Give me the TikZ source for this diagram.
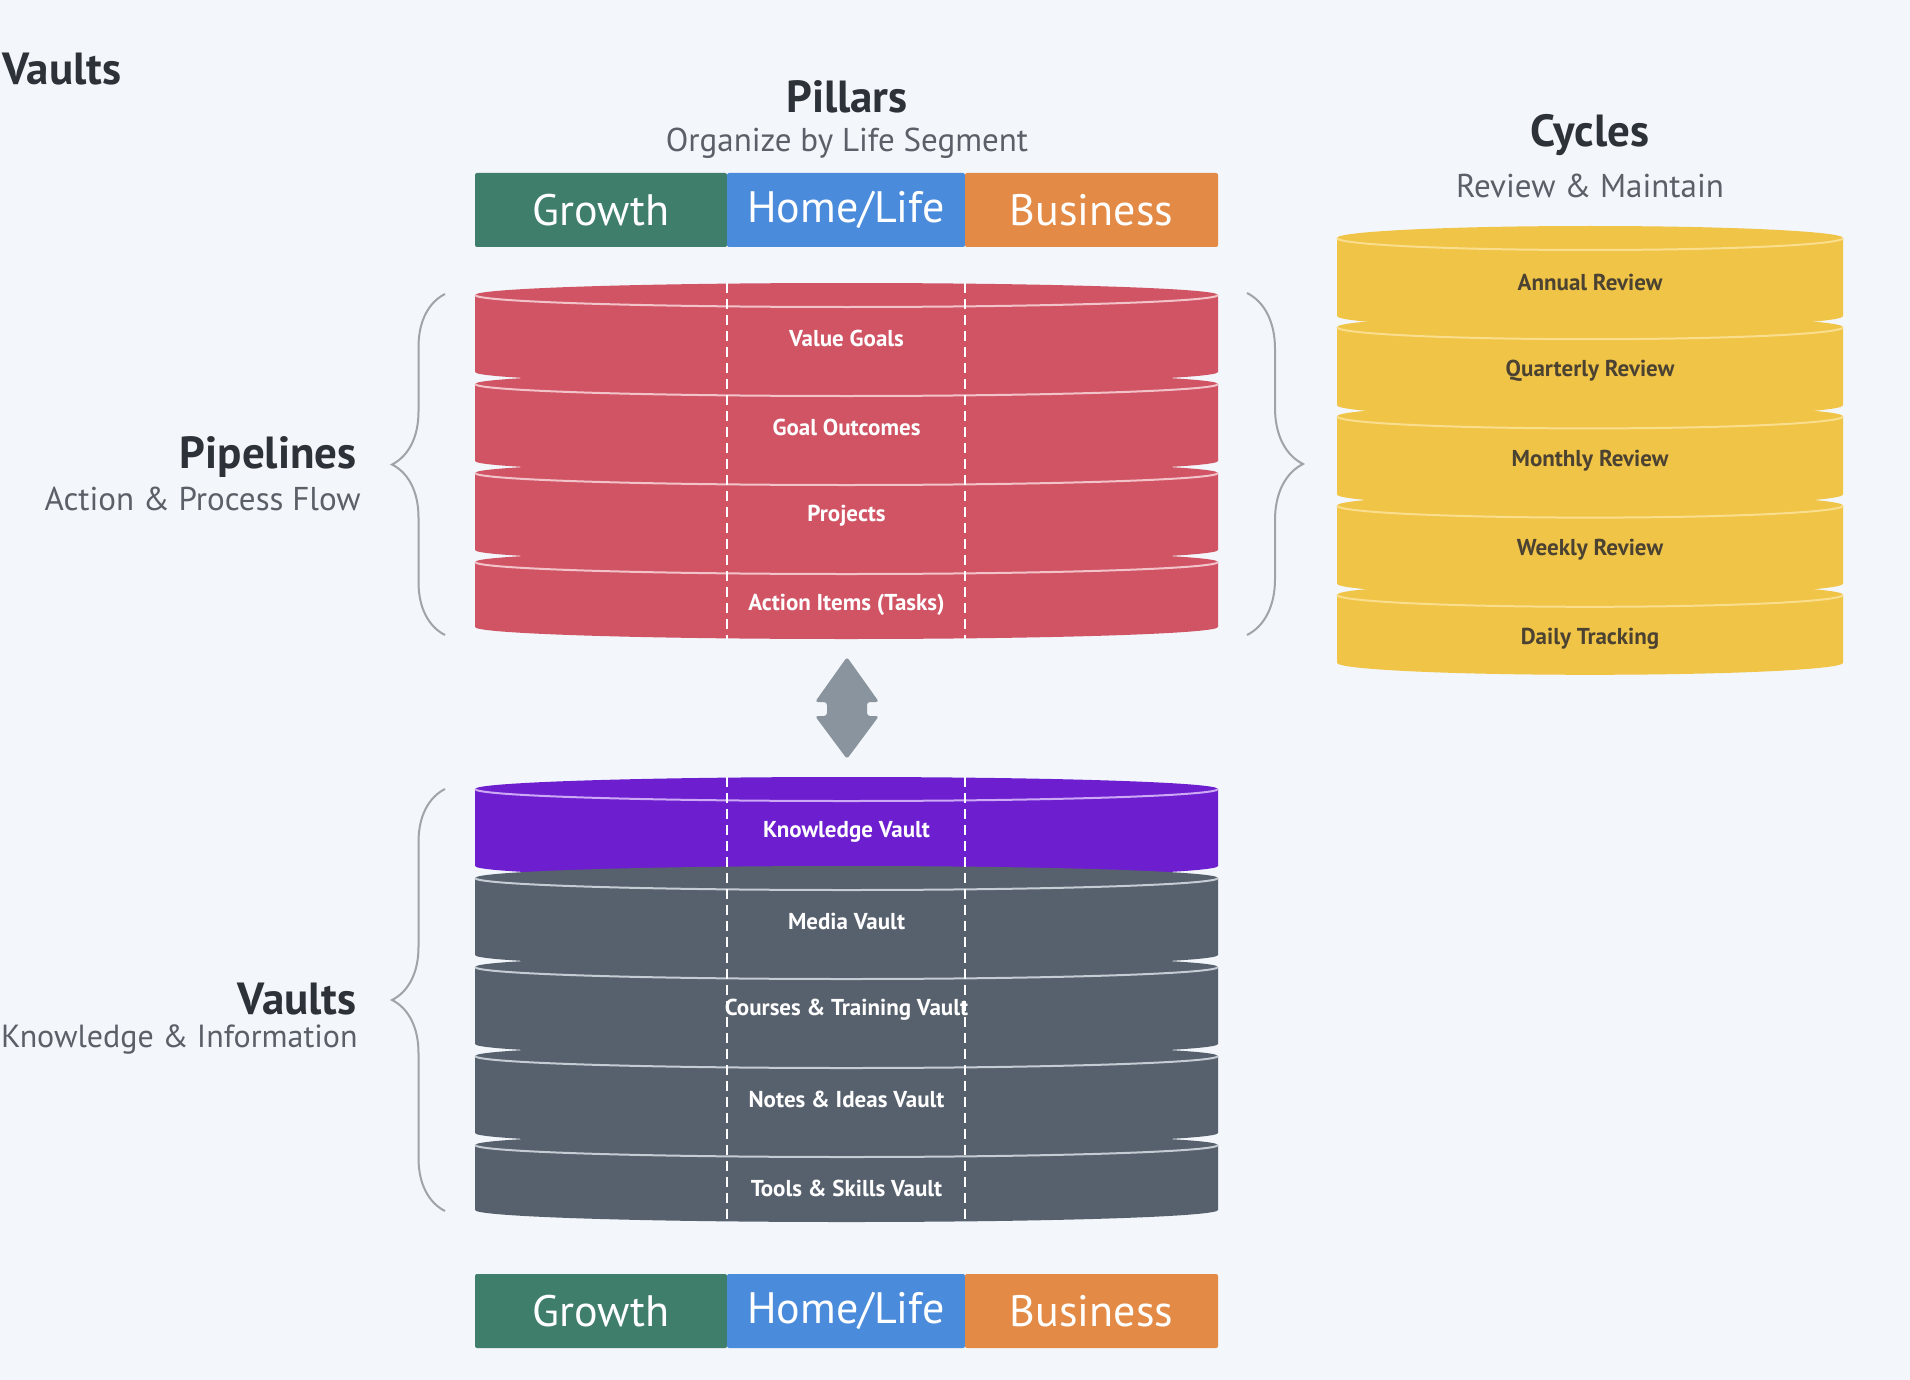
\documentclass[tikz,border=0pt]{standalone}
\usepackage{fontspec}
\setmainfont{PT Sans}
\usepackage{tikz}
\usetikzlibrary{positioning,decorations.pathreplacing}

\definecolor{bgcol}{HTML}{F3F6FA}
\definecolor{inkdark}{HTML}{2D3238}
\definecolor{inkgray}{HTML}{5B6068}
\definecolor{growthc}{HTML}{3F7E6B}
\definecolor{homec}{HTML}{4A8BDB}
\definecolor{businessc}{HTML}{E38B46}
\definecolor{pipered}{HTML}{D05464}
\definecolor{piperim}{HTML}{F2C4CA}
\definecolor{vaultpurple}{HTML}{6D1FCF}
\definecolor{purplerim}{HTML}{CDA8F4}
\definecolor{vaultgray}{HTML}{57616D}
\definecolor{grayrim}{HTML}{C6CCD3}
\definecolor{cycleyellow}{HTML}{F0C447}
\definecolor{yellowrim}{HTML}{F9DE8E}
\definecolor{cycleink}{HTML}{4B4232}
\definecolor{arrowc}{HTML}{8A949E}
\definecolor{bracec}{HTML}{9EA4AA}

\begin{document}
\begin{tikzpicture}[
x=0.5pt, y=-0.5pt,
pillarnode/.style={rectangle, rounded corners=1pt, inner sep=0pt, outer sep=0pt, minimum height=37pt, text=white, font=\fontsize{22}{26}\selectfont},
titlenode/.style={text=inkdark, inner sep=0pt, font=\fontsize{22.5}{26}\selectfont\bfseries},
subnode/.style={text=inkgray, inner sep=0pt, font=\fontsize{16.5}{20}\selectfont},
layerlabel/.style={text=white, font=\fontsize{11.5}{14}\selectfont\bfseries},
cyclelabel/.style={text=cycleink, font=\fontsize{11.5}{14}\selectfont\bfseries},
divline/.style={white, line width=1.2pt, dash pattern=on 5pt off 3pt},
bracenode/.style={bracec, line width=1pt, decorate},
]
\useasboundingbox (0,0) rectangle (1910,1380);
\clip (0,0) rectangle (1910,1380);
\fill[bgcol] (0,0) rectangle (1910,1380);

%Titles
\node[titlenode, anchor=west]  (corner)   at (2,69)     {Vaults};
\node[titlenode]               (pillars)  at (847,97)   {Pillars};
\node[subnode]                 (pillsub)  at (847,143)  {Organize by Life Segment};
\node[titlenode]               (cycles)   at (1590,135) {Cycles};
\node[subnode]                 (cycsub)   at (1590,186) {Review \& Maintain};
\node[titlenode, anchor=east]  (pipes)    at (357,457)  {Pipelines};
\node[subnode, anchor=east]    (pipesub)  at (361,499)  {Action \& Process Flow};
\node[titlenode, anchor=east]  (vaults)   at (357,999)  {Vaults};
\node[subnode, anchor=east, font=\fontsize{16}{20}\selectfont] (vaultsub) at (358,1039) {Knowledge \& Information};

%Pillar bars
\node[pillarnode, fill=growthc, minimum width=126pt]   (g1) at (601,210) {Growth};
\node[pillarnode, fill=homec, minimum width=119pt]     (h1) [right=0pt of g1] {Home/Life};
\node[pillarnode, fill=businessc, minimum width=126.5pt] (b1) [right=0pt of h1] {Business};
\node[pillarnode, fill=growthc, minimum width=126pt]   (g2) at (601,1311) {Growth};
\node[pillarnode, fill=homec, minimum width=119pt]     (h2) [right=0pt of g2] {Home/Life};
\node[pillarnode, fill=businessc, minimum width=126.5pt] (b2) [right=0pt of h2] {Business};

%Pipelines
\foreach \t [count=\i from 0] in {Value Goals, Goal Outcomes, Projects, {Action Items (Tasks)}} {
  \pgfmathsetmacro\ty{338+89*\i}
  \pgfmathsetmacro\tb{\ty+(\i<3 ? 34 : 22)}
  \fill[pipered] (475,\ty-43) -- (475,\tb) arc[start angle=180, end angle=0, x radius=371.5, y radius=12]
    -- (1218,\ty-43) arc[start angle=0, end angle=-180, x radius=371.5, y radius=12] -- cycle;
  \draw[piperim, line width=1pt] (475,\ty-43) arc[start angle=180, end angle=0, x radius=371.5, y radius=12];
  \node[layerlabel] (p\i) at (846.5,\ty) {\t};
}

%Vaults
\foreach \t/\c/\r [count=\i from 0] in {Knowledge Vault/vaultpurple/purplerim, Media Vault/vaultgray/grayrim,
    Courses \& Training Vault/vaultgray/grayrim, Notes \& Ideas Vault/vaultgray/grayrim, Tools \& Skills Vault/vaultgray/grayrim} {
  \pgfmathsetmacro\ty{832+89*\i}
  \pgfmathsetmacro\tb{\ty+(\i<4 ? 34 : 22)}
  \fill[\c] (475,\ty-43) -- (475,\tb) arc[start angle=180, end angle=0, x radius=371.5, y radius=12]
    -- (1218,\ty-43) arc[start angle=0, end angle=-180, x radius=371.5, y radius=12] -- cycle;
  \draw[\r, line width=1pt] (475,\ty-43) arc[start angle=180, end angle=0, x radius=371.5, y radius=12];
  \node[layerlabel] (v\i) at (846.5,\ty) {\t};
}

%Cycles
\foreach \t [count=\i from 0] in {Annual Review, Quarterly Review, Monthly Review, Weekly Review, Daily Tracking} {
  \pgfmathsetmacro\ty{282+89.2*\i}
  \pgfmathsetmacro\tb{\ty+(\i<4 ? 34 : 24)}
  \fill[cycleyellow] (1337,\ty-44) -- (1337,\tb) arc[start angle=180, end angle=0, x radius=253, y radius=12]
    -- (1843,\ty-44) arc[start angle=0, end angle=-180, x radius=253, y radius=12] -- cycle;
  \draw[yellowrim, line width=1pt] (1337,\ty-44) arc[start angle=180, end angle=0, x radius=253, y radius=12];
  \node[cyclelabel] (c\i) at (1590,\ty) {\t};
}

%Divider lines
\coordinate (pd1t) at (727,283);
\coordinate (pd1b) at (727,639);
\coordinate (pd2t) at (965,283);
\coordinate (pd2b) at (965,639);
\coordinate (vd1t) at (727,777);
\coordinate (vd1b) at (727,1222);
\coordinate (vd2t) at (965,777);
\coordinate (vd2b) at (965,1222);
\draw[divline] (pd1t) -- (pd1b);
\draw[divline] (pd2t) -- (pd2b);
\draw[divline] (vd1t) -- (vd1b);
\draw[divline] (vd2t) -- (vd2b);

%Double arrow
\fill[arrowc, rounded corners=1.5pt] (847,657) -- (879,702) -- (867,702) -- (867,716) -- (879,716)
  -- (847,759) -- (815,716) -- (827,716) -- (827,702) -- (815,702) -- cycle;

%Braces
\draw[bracenode, decoration={brace, amplitude=26.5pt}] (445,635) -- (445,294);
\draw[bracenode, decoration={brace, amplitude=28pt}] (1247,293) -- (1247,635);
\draw[bracenode, decoration={brace, amplitude=26.5pt}] (445,1211) -- (445,789);
\end{tikzpicture}
\end{document}
